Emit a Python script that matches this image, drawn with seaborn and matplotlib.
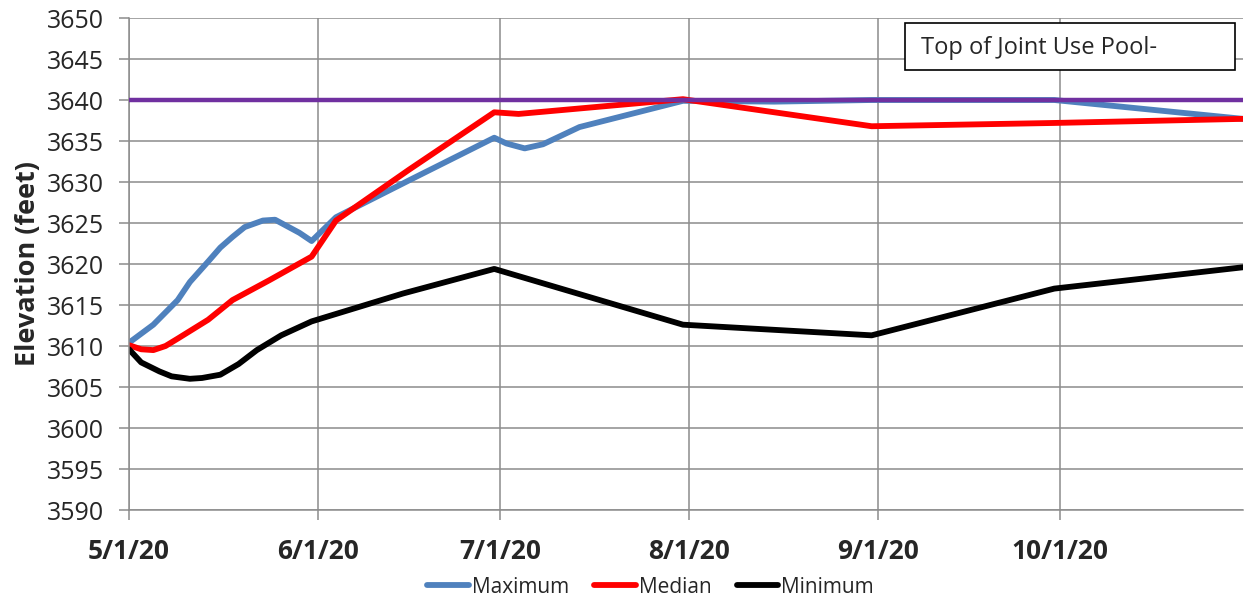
import numpy as np
import pandas as pd
import matplotlib
matplotlib.use("Agg")
import matplotlib.pyplot as plt
from matplotlib.patches import Rectangle
import seaborn as sns

# values
max_dates = ["2020-05-01", "2020-05-05", "2020-05-09", "2020-05-11", "2020-05-14",
             "2020-05-16", "2020-05-18", "2020-05-20", "2020-05-23", "2020-05-25",
             "2020-05-27", "2020-05-29", "2020-05-31", "2020-06-04", "2020-06-16",
             "2020-06-30", "2020-07-02", "2020-07-05", "2020-07-08", "2020-07-14",
             "2020-07-31", "2020-08-15", "2020-08-31", "2020-09-30", "2020-10-31"]
max_vals = [3610.4, 3612.6, 3615.6, 3617.8, 3620.3, 3622.0, 3623.3, 3624.5, 3625.3,
            3625.4, 3624.6, 3623.8, 3622.8, 3625.7, 3630.2, 3635.4, 3634.7, 3634.1,
            3634.6, 3636.7, 3639.9, 3639.8, 3640.0, 3640.0, 3637.7]

med_dates = ["2020-05-01", "2020-05-03", "2020-05-05", "2020-05-07", "2020-05-09",
             "2020-05-14", "2020-05-18", "2020-05-24", "2020-05-31", "2020-06-04",
             "2020-06-16", "2020-06-30", "2020-07-04", "2020-07-31", "2020-08-31",
             "2020-09-30", "2020-10-31"]
med_vals = [3610.1, 3609.6, 3609.5, 3610.0, 3610.9, 3613.2, 3615.6, 3618.0, 3620.9,
            3625.3, 3631.5, 3638.5, 3638.3, 3640.1, 3636.8, 3637.2, 3637.7]

min_dates = ["2020-05-01", "2020-05-03", "2020-05-06", "2020-05-08", "2020-05-11",
             "2020-05-13", "2020-05-16", "2020-05-19", "2020-05-22", "2020-05-26",
             "2020-05-31", "2020-06-15", "2020-06-30", "2020-07-31", "2020-08-31",
             "2020-09-30", "2020-10-31"]
min_vals = [3609.6, 3608.0, 3606.9, 3606.3, 3606.0, 3606.1, 3606.5, 3607.8, 3609.5,
            3611.3, 3613.0, 3616.4, 3619.4, 3612.6, 3611.3, 3617.0, 3619.6]

pool_top = 3640
pool_label = "Top of Joint Use Pool-"

tick_dates = ["2020-05-01", "2020-06-01", "2020-07-01", "2020-08-01", "2020-09-01", "2020-10-01"]
tick_labels = ["5/1/20", "6/1/20", "7/1/20", "8/1/20", "9/1/20", "10/1/20"]

frames = []
for name, d, v in [("Maximum", max_dates, max_vals),
                   ("Median", med_dates, med_vals),
                   ("Minimum", min_dates, min_vals)]:
    frames.append(pd.DataFrame({"date": pd.to_datetime(d), "elev": v, "series": name}))
df = pd.concat(frames, ignore_index=True)

sns.set_theme(style="whitegrid")
plt.rcParams["font.family"] = ["Open Sans", "DejaVu Sans"]

fig = plt.figure(figsize=(12.44, 5.98), dpi=100)
ax = fig.add_axes([129 / 1244, 1 - 510 / 598, 1114 / 1244, 492 / 598])

palette = {"Maximum": "#4F81BD", "Median": "#FF0000", "Minimum": "#000000"}
sns.lineplot(data=df, x="date", y="elev", hue="series", palette=palette,
             linewidth=4.2, ax=ax, legend=True, sort=False,
             solid_joinstyle="round", solid_capstyle="round")
ax.axhline(pool_top, color="#7030A0", linewidth=3.2, zorder=5)

ax.set_xlim(pd.Timestamp("2020-05-01"), pd.Timestamp("2020-10-31"))
ax.set_ylim(3590, 3650)
ax.set_yticks(np.arange(3590, 3651, 5))
ax.set_xticks(pd.to_datetime(tick_dates))
ax.set_xticklabels(tick_labels, fontweight="bold")

ax.grid(True, color="#8c8c8c", linewidth=1.1)
for s in ["top", "right"]:
    ax.spines[s].set_visible(False)
for s in ["left", "bottom"]:
    ax.spines[s].set_color("#8c8c8c")
    ax.spines[s].set_linewidth(1.1)
ax.tick_params(axis="y", which="both", direction="out", length=7, width=1.1,
               color="#8c8c8c", labelsize=18, pad=11, left=True)
ax.tick_params(axis="x", which="both", direction="out", length=7, width=1.1,
               color="#8c8c8c", labelsize=19, pad=13, bottom=True)
ax.set_xlabel("")
ax.set_ylabel("Elevation (feet)", fontsize=19.5, fontweight="bold", labelpad=4)

# text box
ax.add_patch(Rectangle((0.6966, 0.894), 0.2962, 0.0958, transform=ax.transAxes,
                       facecolor="white", edgecolor="black", linewidth=1.2, zorder=6))
ax.text(0.711, 0.940, pool_label, transform=ax.transAxes, fontsize=17,
        va="center", ha="left", zorder=7)

handles, labels = ax.get_legend_handles_labels()
ax.get_legend().remove()
fig.legend(handles, labels, loc="center", bbox_to_anchor=(0.523, 0.018), ncol=3,
           frameon=False, fontsize=15, handlelength=2.0, handletextpad=0.15,
           columnspacing=1.2, borderaxespad=0)

fig.savefig("out.png", dpi=100)
